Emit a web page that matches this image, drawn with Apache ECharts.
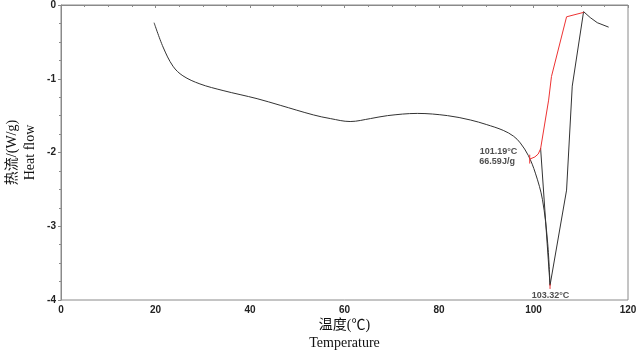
<!DOCTYPE html>
<html>
<head>
<meta charset="utf-8">
<script src="https://cdn.jsdelivr.net/npm/echarts@6/dist/echarts.min.js"></script>
<style>
  html, body { margin: 0; padding: 0; background: #fff; }
  #chart { width: 644px; height: 352px; }
</style>
</head>
<body>
<div id="chart"></div>
<script>
// DSC curve (temperature in C, heat flow in W/g)
var leftTemp = [19.7, 21.6, 23.7, 25.8, 29.4, 34.3, 41.5, 46.4, 53.4, 57.0, 61.2, 65.5, 69.1, 75.4, 81.8, 86.7, 90.0, 93.6, 95.8, 97.2, 98.9, 100.4, 101.9, 103.0, 103.5];
var leftFlow = [-0.24, -0.57, -0.83, -0.96, -1.07, -1.16, -1.27, -1.36, -1.49, -1.54, -1.58, -1.54, -1.50, -1.47, -1.50, -1.56, -1.62, -1.70, -1.78, -1.87, -2.04, -2.28, -2.64, -3.23, -3.80];
var rightTemp = [103.5, 107.0, 108.2, 110.6, 112.0, 113.5, 115.9];
var rightFlow = [-3.80, -2.51, -1.10, -0.09, -0.17, -0.24, -0.30];
var chordTemp = [101.5, 103.5];
var chordFlow = [-1.94, -3.80];
var redTemp = [99.2, 100.3, 101.0, 101.5, 103.2, 103.8, 107.0, 110.6];
var redFlow = [-2.09, -2.06, -2.02, -1.95, -1.29, -0.97, -0.16, -0.10];
var tickStartTemp = [99.2, 99.2];
var tickStartFlow = [-2.03, -2.15];
var tickPeakTemp = [103.5, 103.5];
var tickPeakFlow = [-3.78, -3.85];
var noteText = ['101.19°C', '66.59J/g', '103.32°C'];
var noteTemp = [92.6, 92.3, 103.6];
var noteFlow = [-1.98, -2.12, -3.94];

function pairs(xs, ys) {
  return xs.map(function (x, i) { return [x, ys[i]]; });
}

var black = '#333333';
var red = '#ee3333';
var gray = '#8a8a8a';
var serif = '"Liberation Serif", "Noto Sans CJK SC", serif';

var lineBase = {
  type: 'line',
  showSymbol: false,
  symbol: 'none',
  animation: false,
  silent: true
};

var chart = echarts.init(document.getElementById('chart'));
chart.setOption({
  backgroundColor: '#fff',
  grid: {
    left: 61, right: 16, top: 5, bottom: 52,
    outerBoundsMode: 'none',
    containLabel: false,
    show: true, borderColor: gray, borderWidth: 1
  },
  xAxis: {
    type: 'value',
    min: 0, max: 120, interval: 20,
    name: '温度(℃)\nTemperature',
    nameLocation: 'middle',
    nameGap: 16,
    nameMoveOverlap: false,
    nameTextStyle: { fontFamily: serif, fontSize: 14, color: '#111', lineHeight: 18, verticalAlign: 'top' },
    axisLine: { lineStyle: { color: gray } },
    axisTick: { length: 3, lineStyle: { color: gray } },
    minorTick: { show: true, splitNumber: 4, length: 2, lineStyle: { color: gray } },
    splitLine: { show: false },
    axisLabel: { fontFamily: 'Liberation Sans, Arial', fontWeight: 'bold', fontSize: 10, color: '#222', margin: 5 }
  },
  yAxis: {
    type: 'value',
    min: -4, max: 0, interval: 1,
    name: '热流/(W/g)\nHeat flow',
    nameLocation: 'middle',
    nameRotate: 90,
    nameGap: 22,
    nameMoveOverlap: false,
    nameTextStyle: { fontFamily: serif, fontSize: 14, color: '#111', lineHeight: 18 },
    axisLine: { lineStyle: { color: gray } },
    axisTick: { length: 3, lineStyle: { color: gray } },
    minorTick: { show: true, splitNumber: 4, length: 2, lineStyle: { color: gray } },
    splitLine: { show: false },
    axisLabel: { fontFamily: 'Liberation Sans, Arial', fontWeight: 'bold', fontSize: 10, color: '#222', margin: 5 }
  },
  series: [
    Object.assign({}, lineBase, {
      data: pairs(leftTemp, leftFlow), smooth: 0.35,
      lineStyle: { color: black, width: 1 }
    }),
    Object.assign({}, lineBase, {
      data: pairs(rightTemp, rightFlow),
      lineStyle: { color: black, width: 1 }
    }),
    Object.assign({}, lineBase, {
      data: pairs(chordTemp, chordFlow),
      lineStyle: { color: black, width: 1 }
    }),
    Object.assign({}, lineBase, {
      data: pairs(redTemp, redFlow),
      lineStyle: { color: red, width: 1 }
    }),
    Object.assign({}, lineBase, {
      data: pairs(tickStartTemp, tickStartFlow),
      lineStyle: { color: red, width: 1 }
    }),
    Object.assign({}, lineBase, {
      data: pairs(tickPeakTemp, tickPeakFlow),
      lineStyle: { color: red, width: 1 }
    }),
    {
      type: 'scatter',
      symbolSize: 0,
      animation: false,
      silent: true,
      data: noteText.map(function (t, i) {
        return { value: [noteTemp[i], noteFlow[i]], name: t };
      }),
      label: {
        show: true,
        position: 'inside',
        formatter: function (p) { return p.name; },
        fontFamily: 'Liberation Sans, Arial',
        fontWeight: 'bold',
        fontSize: 9,
        color: '#222'
      }
    }
  ]
});
</script>
</body>
</html>
